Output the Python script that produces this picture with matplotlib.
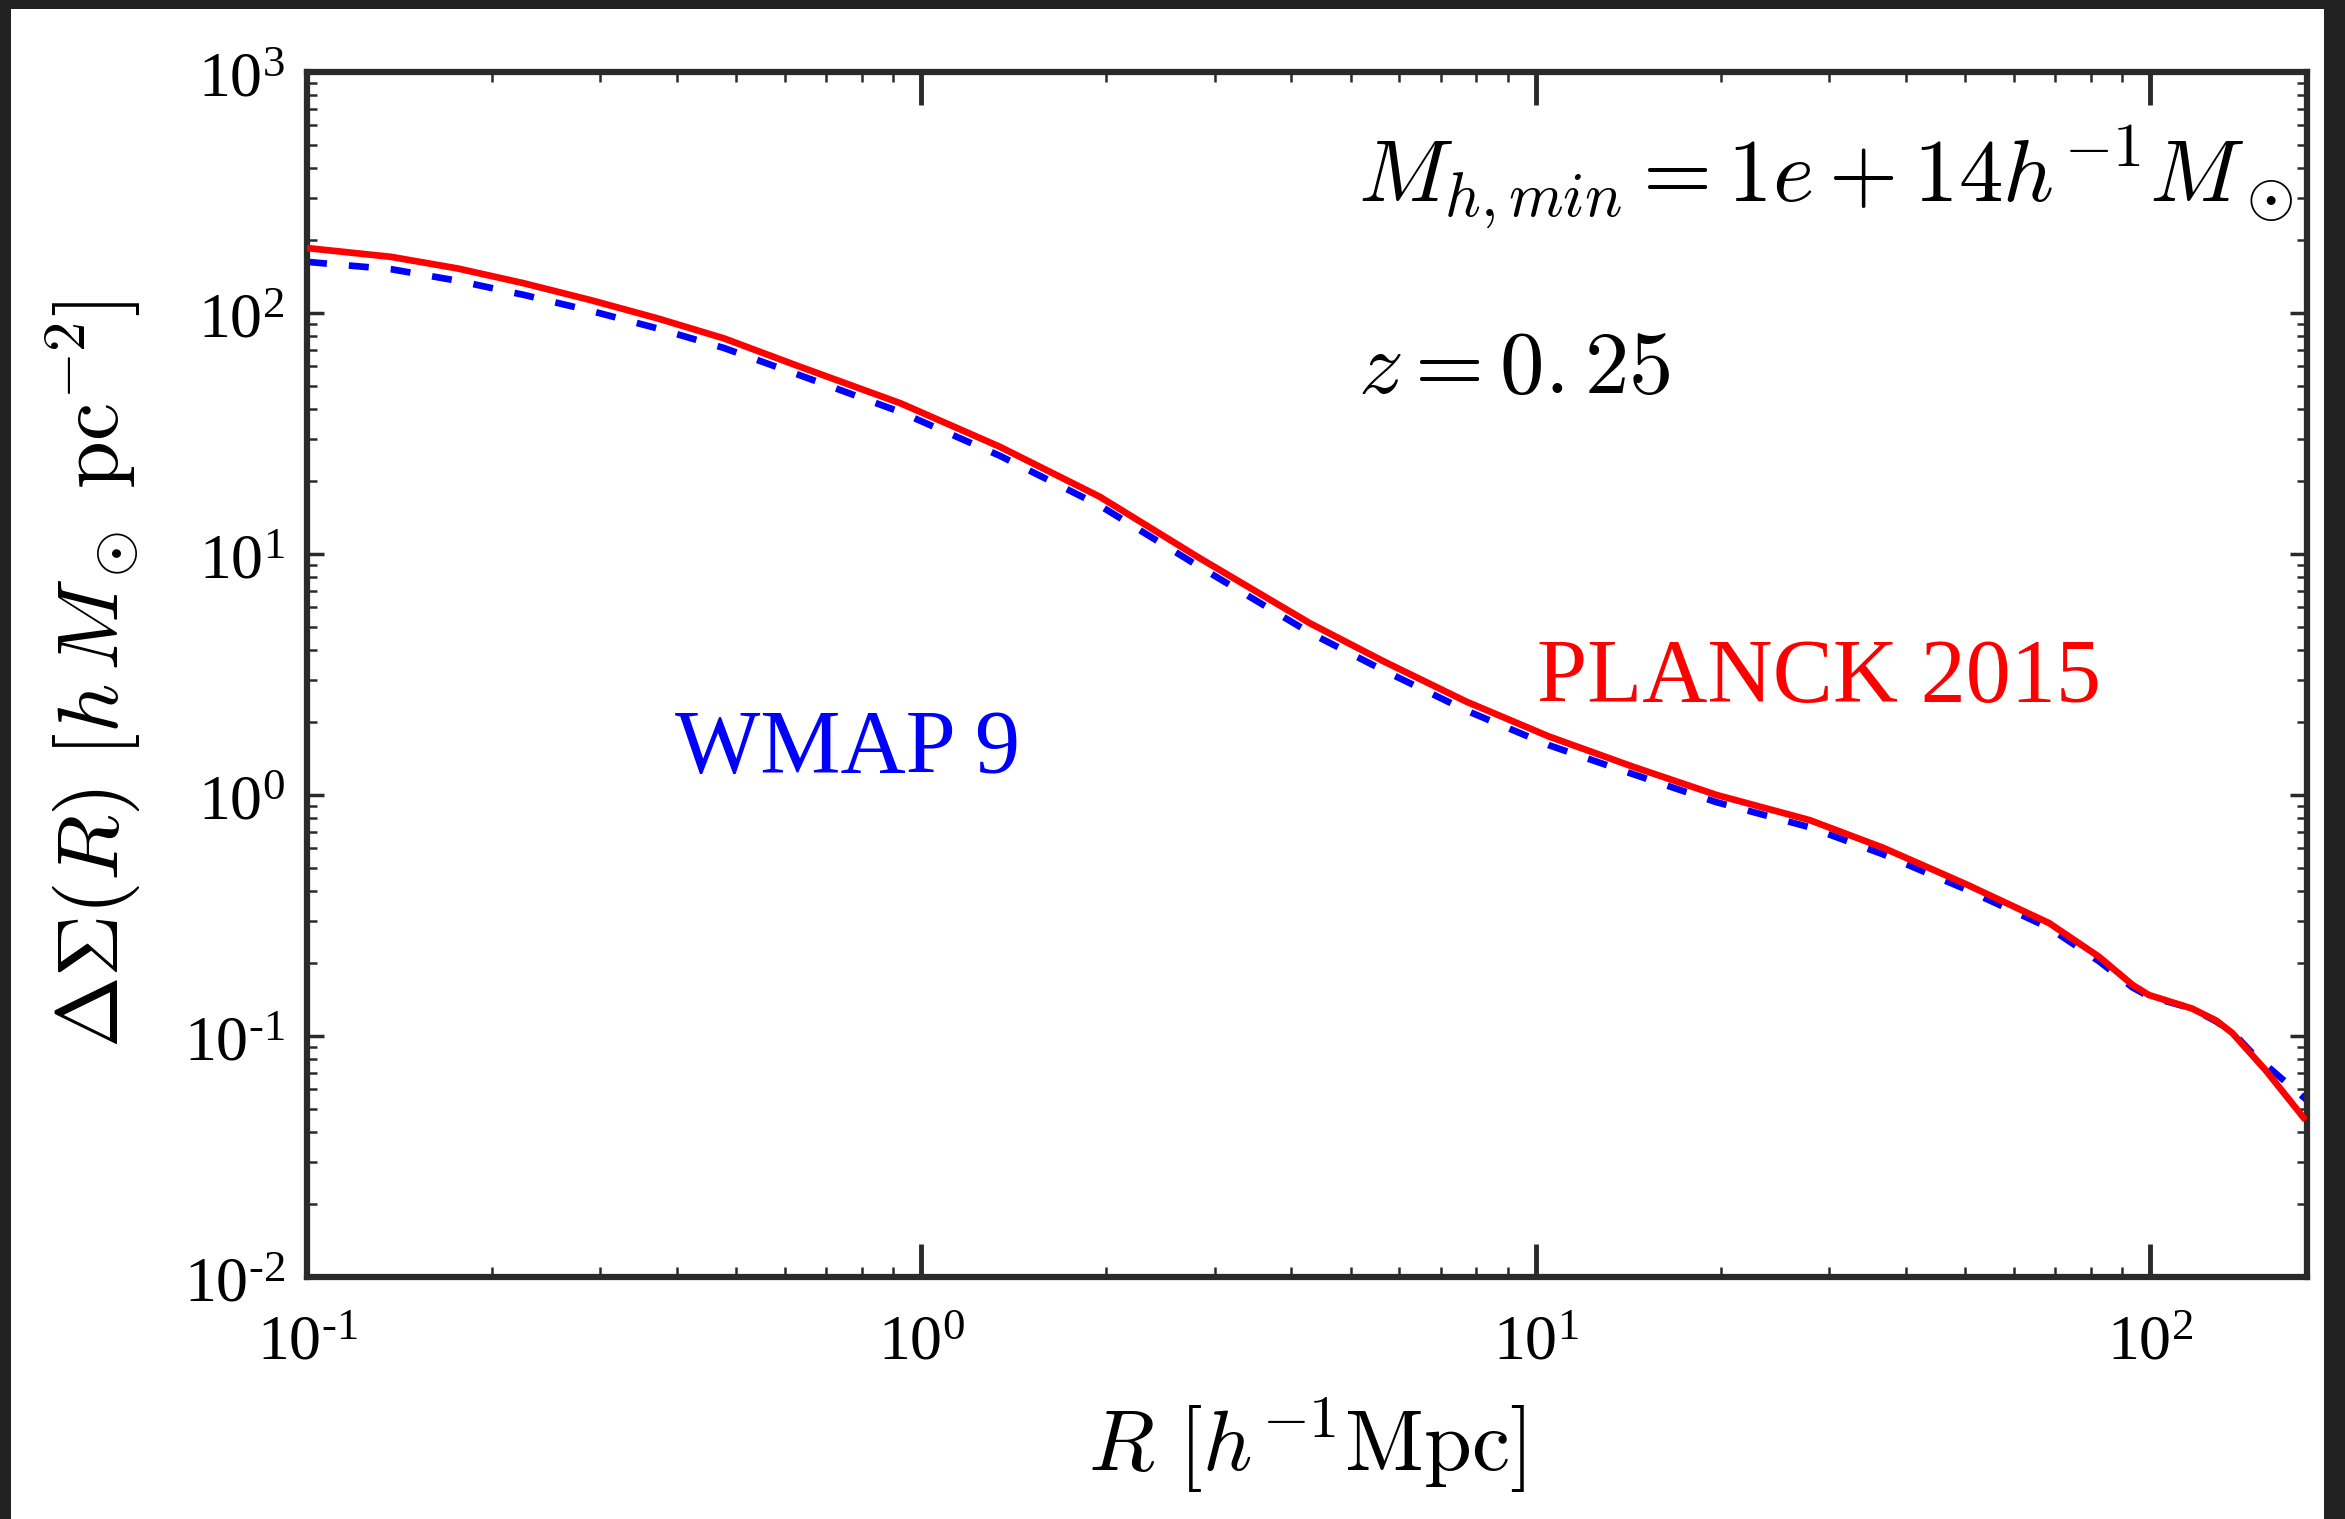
import matplotlib
matplotlib.use("Agg")
import matplotlib.pyplot as plt
from matplotlib.patches import Rectangle
from matplotlib.ticker import LogLocator, FixedLocator, FuncFormatter, NullFormatter
import numpy as np

# Excess surface density profiles for two cosmologies
R_planck = [0.1, 0.137, 0.176, 0.225, 0.290, 0.372, 0.477, 0.635, 0.925, 1.34, 1.95, 2.84,
            4.29, 5.65, 7.71, 10.5, 14.4, 19.7, 27.9, 36.7, 50.1, 68.5, 82.6, 93.6, 99.5,
            117.0, 128.0, 136.0, 154.0, 179.0]
dsigma_planck = [186, 171, 153, 133, 113, 95.0, 78.5, 59.8, 42.2, 27.9, 17.3, 9.6,
                 5.16, 3.59, 2.44, 1.75, 1.31, 1.00, 0.787, 0.605, 0.427, 0.294, 0.213, 0.163, 0.148,
                 0.130, 0.116, 0.103, 0.0723, 0.0448]

R_wmap = [0.1, 0.137, 0.176, 0.225, 0.290, 0.372, 0.477, 0.635, 0.925, 1.34, 1.95, 2.84,
          4.29, 5.65, 7.71, 10.5, 14.4, 19.7, 27.9, 36.7, 50.1, 68.5, 82.6, 93.6, 99.5,
          117.0, 128.0, 136.0, 146.6, 167.0, 180.0]
dsigma_wmap = [163, 152, 136, 119, 102, 86.3, 71.6, 55.1, 38.8, 25.6, 15.9, 8.83,
               4.71, 3.29, 2.24, 1.61, 1.22, 0.933, 0.735, 0.568, 0.406, 0.281, 0.204, 0.159, 0.146,
               0.130, 0.115, 0.104, 0.0849, 0.0637, 0.0542]

x_major = [0.1, 1, 10, 100]
x_major_labels = ["-1", "0", "1", "2"]
y_major = [0.01, 0.1, 1, 10, 100, 1000]
y_major_labels = ["-2", "-1", "0", "1", "2", "3"]

plt.rcParams["mathtext.fontset"] = "custom"
plt.rcParams["mathtext.rm"] = "Liberation Serif"
plt.rcParams["mathtext.it"] = "Liberation Serif:italic"
plt.rcParams["mathtext.bf"] = "Liberation Serif:bold"

W, H, DPI = 2345, 1519, 100
fig = plt.figure(figsize=(W / DPI, H / DPI), dpi=DPI, facecolor="#222222")
fig.patches.append(Rectangle((11 / W, 0), (2324 - 11) / W, (H - 9) / H,
                             transform=fig.transFigure, facecolor="white",
                             edgecolor="none", zorder=-10))

ax = fig.add_axes([307 / W, 242 / H, (2307 - 307) / W, (1447 - 242) / H])
ax.set_zorder(1)
ax.set_xscale("log")
ax.set_yscale("log")
ax.set_xlim(0.1, 180)
ax.set_ylim(1e-2, 1e3)

ax.plot(R_planck, dsigma_planck, color="#ff0000", lw=4.8, solid_capstyle="butt",
        solid_joinstyle="round", zorder=3)
ax.plot(R_wmap, dsigma_wmap, color="#0000ff", lw=4.8, dashes=(3.0, 3.3), zorder=2)

def sup_label(exp):
    return r"$\mathrm{10^{\text{" + exp + r"}}}$"

ax.xaxis.set_major_locator(FixedLocator(x_major))
ax.xaxis.set_major_formatter(FuncFormatter(
    lambda v, p: sup_label(x_major_labels[x_major.index(v)]) if v in x_major else ""))
ax.yaxis.set_major_locator(FixedLocator(y_major))
ax.yaxis.set_major_formatter(FuncFormatter(
    lambda v, p: sup_label(y_major_labels[y_major.index(v)]) if v in y_major else ""))
ax.xaxis.set_minor_locator(LogLocator(base=10, subs=np.arange(2, 10), numticks=20))
ax.yaxis.set_minor_locator(LogLocator(base=10, subs=np.arange(2, 10), numticks=20))
ax.xaxis.set_minor_formatter(NullFormatter())
ax.yaxis.set_minor_formatter(NullFormatter())

spine_color = "#2a2a2a"
for s in ax.spines.values():
    s.set_linewidth(4.5)
    s.set_color(spine_color)

ax.tick_params(which="both", direction="in", top=True, right=True, colors=spine_color,
               labelcolor="black", labelsize=46)
ax.tick_params(axis="x", which="major", length=24, width=3.5, pad=24)
ax.tick_params(axis="y", which="major", length=12, width=2.5, pad=16)
ax.tick_params(which="minor", length=7, width=1.8)

ax.set_xlabel(r"$R\ [h^{-1}\mathrm{Mpc}]$", fontsize=62, math_fontfamily="cm", labelpad=17)
ax.set_ylabel(r"$\Delta\Sigma(R)\ [h\,M_\odot\ \mathrm{pc}^{-2}]$", fontsize=62,
              math_fontfamily="cm", labelpad=30)

ax.text(1358 / W, 1 - 202 / H, r"$M_{h,min} = 1e+14h^{-1}M_\odot$", transform=fig.transFigure,
        fontsize=64, math_fontfamily="cm", ha="left", va="baseline")
ax.text(1358 / W, 1 - 393 / H, r"$z=0.{}25$", transform=fig.transFigure,
        fontsize=64, math_fontfamily="cm", ha="left", va="baseline")
ax.text(675 / W, 1 - 773 / H, "WMAP 9", transform=fig.transFigure, color="#0000ff",
        fontsize=65, family="Liberation Serif", ha="left", va="baseline")
ax.text(1537 / W, 1 - 702 / H, "PLANCK 2015", transform=fig.transFigure, color="#ff0000",
        fontsize=65, family="Liberation Serif", ha="left", va="baseline")

fig.savefig("out.png", dpi=DPI, facecolor=fig.get_facecolor())
